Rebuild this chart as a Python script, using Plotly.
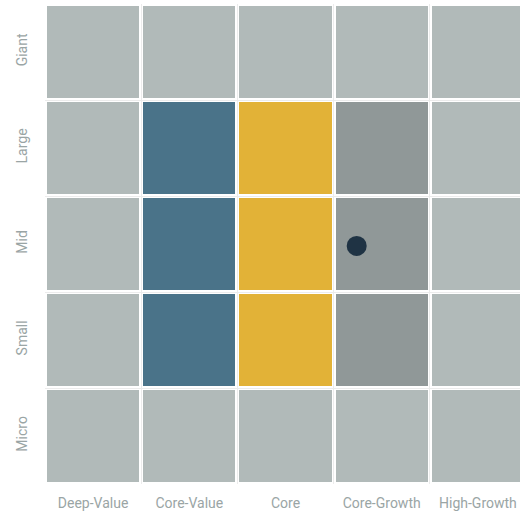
import plotly.graph_objects as go

styles = ["Deep-Value", "Core-Value", "Core", "Core-Growth", "High-Growth"]
sizes = ["Micro", "Small", "Mid", "Large", "Giant"]  # bottom to top
# category code per cell: 0 = neutral, 1 = value zone, 2 = core zone, 3 = growth zone
zone = [
    [0, 0, 0, 0, 0],  # Micro
    [0, 1, 2, 3, 0],  # Small
    [0, 1, 2, 3, 0],  # Mid
    [0, 1, 2, 3, 0],  # Large
    [0, 0, 0, 0, 0],  # Giant
]
zone_colors = ["#b1bab9", "#4a7389", "#e2b237", "#909898"]
dot_style = 2.74   # position on style axis (left part of Core-Growth)
dot_size = 1.98    # position on size axis (Mid)

n = len(zone_colors)
colorscale = []
for i, c in enumerate(zone_colors):
    colorscale.append([i / n, c])
    colorscale.append([(i + 1) / n, c])

fig = go.Figure()
fig.add_trace(go.Heatmap(
    z=zone,
    x=list(range(len(styles))),
    y=list(range(len(sizes))),
    colorscale=colorscale,
    zmin=-0.5, zmax=n - 0.5,
    showscale=False,
    xgap=4, ygap=4,
    hoverinfo="skip",
))
fig.add_trace(go.Scatter(
    x=[dot_style], y=[dot_size],
    mode="markers",
    marker=dict(size=20, color="#1f3344"),
    hoverinfo="skip",
    showlegend=False,
))

bounds_x = [i - 0.5 for i in range(len(styles) + 1)]
bounds_y = [i - 0.5 for i in range(len(sizes) + 1)]
fig.update_xaxes(
    range=[-0.5, len(styles) - 0.5],
    tickvals=list(range(len(styles))), ticktext=styles,
    showgrid=False, zeroline=False, ticks="",
    ticklabelstandoff=9,
    minor=dict(tickvals=bounds_x, showgrid=True, gridcolor="#ececec", gridwidth=1),
    tickfont=dict(family="Roboto", size=14, color="#9aa5a5"),
)
fig.update_yaxes(
    range=[-0.5, len(sizes) - 0.5],
    tickvals=list(range(len(sizes))), ticktext=sizes,
    tickangle=-90,
    showgrid=False, zeroline=False, ticks="",
    ticklabelstandoff=14,
    minor=dict(tickvals=bounds_y, showgrid=True, gridcolor="#ececec", gridwidth=1),
    tickfont=dict(family="Roboto", size=14, color="#9aa5a5"),
)
fig.update_layout(
    width=526, height=514,
    margin=dict(l=45, r=0, t=4, b=30),
    plot_bgcolor="white", paper_bgcolor="white",
    showlegend=False,
)
fig.write_html("out.html", config={"displayModeBar": False},
               post_script="document.body.style.margin='0';")
